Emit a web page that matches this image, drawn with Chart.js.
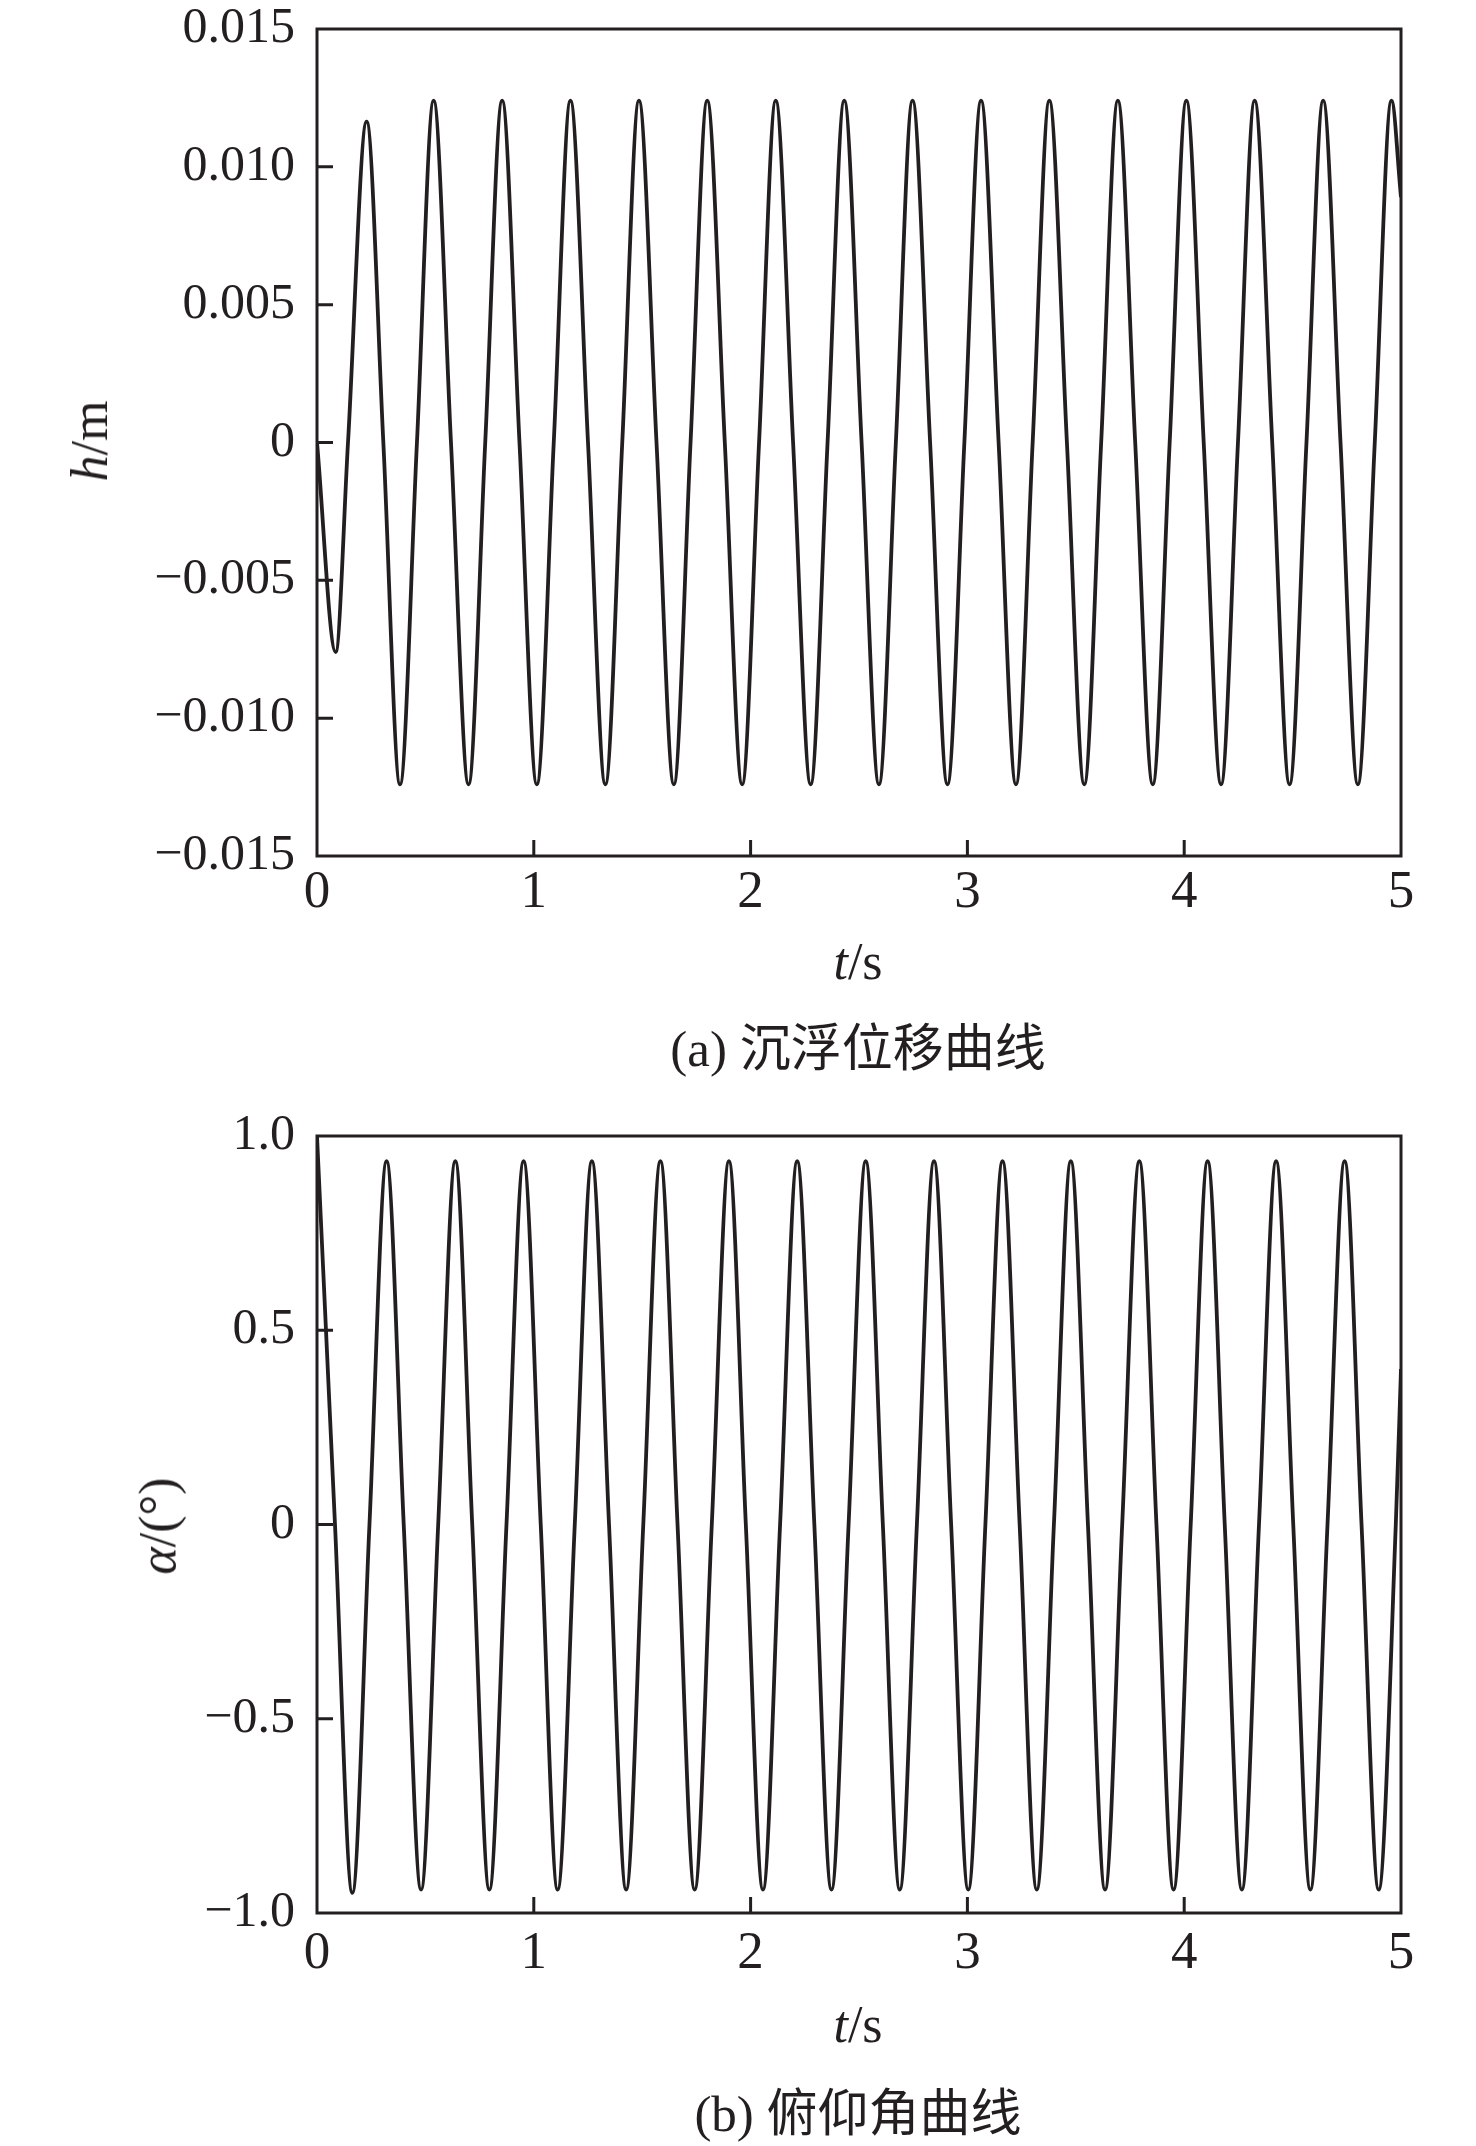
<!DOCTYPE html>
<html>
<head>
<meta charset="utf-8">
<script src="https://cdn.jsdelivr.net/npm/chart.js@4.4.1/dist/chart.umd.min.js"></script>
<style>
  html, body { margin: 0; padding: 0; background: #fff; }
  #page { position: relative; width: 1476px; height: 2146px; background: #fff; overflow: hidden; }
  .panel { position: absolute; left: 0; }
  .txt {
    position: absolute;
    font-family: "Liberation Serif", "Noto Sans CJK SC", serif;
    color: #231f20;
    line-height: 1;
    white-space: nowrap;
    transform: translate(-50%, -50%);
  }
  .rot { transform: translate(-50%, -50%) rotate(-90deg); }
</style>
</head>
<body>
<div id="page">
  <!-- canvases sit a little higher than the frame: chart.js keeps room above the top tick label -->
  <div class="panel" style="top:-21px;"><canvas id="heaveChart" width="1476" height="961"></canvas></div>
  <div class="panel" style="top:1086px;"><canvas id="pitchChart" width="1476" height="914"></canvas></div>

  <div class="txt rot" style="left:90px; top:441px; font-size:52px;"><i>h</i>/m</div>
  <div class="txt" style="left:858px; top:962px; font-size:52px;"><i>t</i>/s</div>
  <div class="txt" style="left:858px; top:1049px; font-size:51px;">(a) 沉浮位移曲线</div>

  <div class="txt rot" style="left:158px; top:1526px; font-size:52px;"><i>α</i>/(°)</div>
  <div class="txt" style="left:858px; top:2025px; font-size:52px;"><i>t</i>/s</div>
  <div class="txt" style="left:858px; top:2114px; font-size:51px;">(b) 俯仰角曲线</div>
</div>

<script>
// --- Data ---
// (a) heave displacement h (m) vs t (s): extrema and zero crossings
const hTime = [
  0, 0.086, 0.143, 0.229, 0.306, 0.383, 0.461, 0.538, 0.618, 0.699,
  0.776, 0.854, 0.934, 1.014, 1.092, 1.169, 1.250, 1.330, 1.408, 1.485,
  1.566, 1.646, 1.723, 1.800, 1.881, 1.961, 2.039, 2.116, 2.196, 2.277,
  2.355, 2.432, 2.512, 2.592, 2.670, 2.747, 2.828, 2.908, 2.986, 3.063,
  3.144, 3.224, 3.301, 3.378, 3.459, 3.539, 3.617, 3.694, 3.774, 3.855,
  3.933, 4.010, 4.090, 4.170, 4.248, 4.325, 4.406, 4.486, 4.564, 4.641,
  4.721, 4.801, 4.879, 4.956, 5.0
];
const hValue = [
  0, -0.0076, 0, 0.01164, 0, -0.0124, 0, 0.0124, 0, -0.0124,
  0, 0.0124, 0, -0.0124, 0, 0.0124, 0, -0.0124, 0, 0.0124,
  0, -0.0124, 0, 0.0124, 0, -0.0124, 0, 0.0124, 0, -0.0124,
  0, 0.0124, 0, -0.0124, 0, 0.0124, 0, -0.0124, 0, 0.0124,
  0, -0.0124, 0, 0.0124, 0, -0.0124, 0, 0.0124, 0, -0.0124,
  0, 0.0124, 0, -0.0124, 0, 0.0124, 0, -0.0124, 0, 0.0124,
  0, -0.0124, 0, 0.0124, 0.0089
];

// (b) pitch angle alpha (deg) vs t (s)
const aTime = [
  0, 0.083, 0.163, 0.242, 0.321, 0.400, 0.480, 0.559, 0.638, 0.716,
  0.795, 0.874, 0.953, 1.032, 1.110, 1.189, 1.268, 1.347, 1.426, 1.505,
  1.584, 1.663, 1.742, 1.821, 1.900, 1.978, 2.057, 2.136, 2.215, 2.294,
  2.373, 2.452, 2.531, 2.610, 2.688, 2.767, 2.846, 2.925, 3.004, 3.083,
  3.162, 3.241, 3.320, 3.399, 3.477, 3.556, 3.635, 3.714, 3.793, 3.872,
  3.951, 4.030, 4.108, 4.187, 4.266, 4.345, 4.424, 4.503, 4.582, 4.661,
  4.740, 4.818, 4.897, 4.976, 5.0
];
const aValue = [
  1.0, 0, -0.948, 0, 0.935, 0, -0.94, 0, 0.935, 0,
  -0.94, 0, 0.935, 0, -0.94, 0, 0.935, 0, -0.94, 0,
  0.935, 0, -0.94, 0, 0.935, 0, -0.94, 0, 0.935, 0,
  -0.94, 0, 0.935, 0, -0.94, 0, 0.935, 0, -0.94, 0,
  0.935, 0, -0.94, 0, 0.935, 0, -0.94, 0, 0.935, 0,
  -0.94, 0, 0.935, 0, -0.94, 0, 0.935, 0, -0.94, 0,
  0.935, 0, -0.94, 0, 0.40
];

// --- Tick values and labels ---
const tTickValues = [0, 1, 2, 3, 4, 5];
const tTickLabels = ["0", "1", "2", "3", "4", "5"];
const hTickValues = [-0.015, -0.01, -0.005, 0, 0.005, 0.01, 0.015];
const hTickLabels = ["\u22120.015", "\u22120.010", "\u22120.005", "0", "0.005", "0.010", "0.015"];
const aTickValues = [-1, -0.5, 0, 0.5, 1];
const aTickLabels = ["\u22121.0", "\u22120.5", "0", "0.5", "1.0"];

const INK = "#231f20";
const SERIF = "'Liberation Serif', 'Times New Roman', serif";

// --- Frame and inward tick marks ---
const frameTicks = {
  id: "frameTicks",
  afterDatasetsDraw(chart) {
    const { ctx, chartArea: a, scales } = chart;
    ctx.save();
    ctx.strokeStyle = INK;
    ctx.lineWidth = 3;
    ctx.strokeRect(a.left, a.top, a.right - a.left, a.bottom - a.top);
    ctx.beginPath();
    scales.y.ticks.forEach((t) => {
      const y = scales.y.getPixelForValue(t.value);
      if (y > a.top + 2 && y < a.bottom - 2) {
        ctx.moveTo(a.left, y);
        ctx.lineTo(a.left + 16, y);
      }
    });
    scales.x.ticks.forEach((t) => {
      const x = scales.x.getPixelForValue(t.value);
      if (x > a.left + 2 && x < a.right - 2) {
        ctx.moveTo(x, a.bottom);
        ctx.lineTo(x, a.bottom - 16);
      }
    });
    ctx.stroke();
    ctx.restore();
  }
};

function makeChart(id, times, values, yMin, yMax, yTicks, yLabels, pad, xPad) {
  const ctx = document.getElementById(id);
  return new Chart(ctx, {
    type: "line",
    data: {
      datasets: [
        {
          data: times.map((t, i) => ({ x: t, y: values[i] })),
          borderColor: INK,
          borderWidth: 3.8,
          pointRadius: 0,
          fill: false,
          cubicInterpolationMode: "monotone"
        }
      ]
    },
    options: {
      responsive: false,
      devicePixelRatio: 1,
      animation: false,
      events: [],
      layout: { padding: pad },
      plugins: {
        legend: { display: false },
        tooltip: { enabled: false }
      },
      scales: {
        x: {
          type: "linear",
          min: 0,
          max: 5,
          grid: { display: false, drawTicks: false },
          border: { display: false },
          afterBuildTicks: (s) => { s.ticks = tTickValues.map((v) => ({ value: v })); },
          afterFit: (s) => { s.height = 70; },
          ticks: {
            color: INK,
            padding: xPad,
            maxRotation: 0,
            font: { family: SERIF, size: 53, lineHeight: 1 },
            callback: (v, i) => tTickLabels[i]
          }
        },
        y: {
          min: yMin,
          max: yMax,
          grid: { display: false, drawTicks: false },
          border: { display: false },
          afterBuildTicks: (s) => { s.ticks = yTicks.map((v) => ({ value: v })); },
          afterFit: (s) => { s.width = 317; },
          ticks: {
            color: INK,
            padding: 22,
            font: { family: SERIF, size: 50, lineHeight: 1 },
            callback: (v, i) => yLabels[i]
          }
        }
      }
    },
    plugins: [frameTicks]
  });
}

document.addEventListener("DOMContentLoaded", () => {
  makeChart("heaveChart", hTime, hValue, -0.015, 0.015, hTickValues, hTickLabels,
    { left: 0, right: 75, top: 50, bottom: 14 }, 11);
  makeChart("pitchChart", aTime, aValue, -1, 1, aTickValues, aTickLabels,
    { left: 0, right: 75, top: 50, bottom: 17 }, 15);
});
</script>
</body>
</html>
